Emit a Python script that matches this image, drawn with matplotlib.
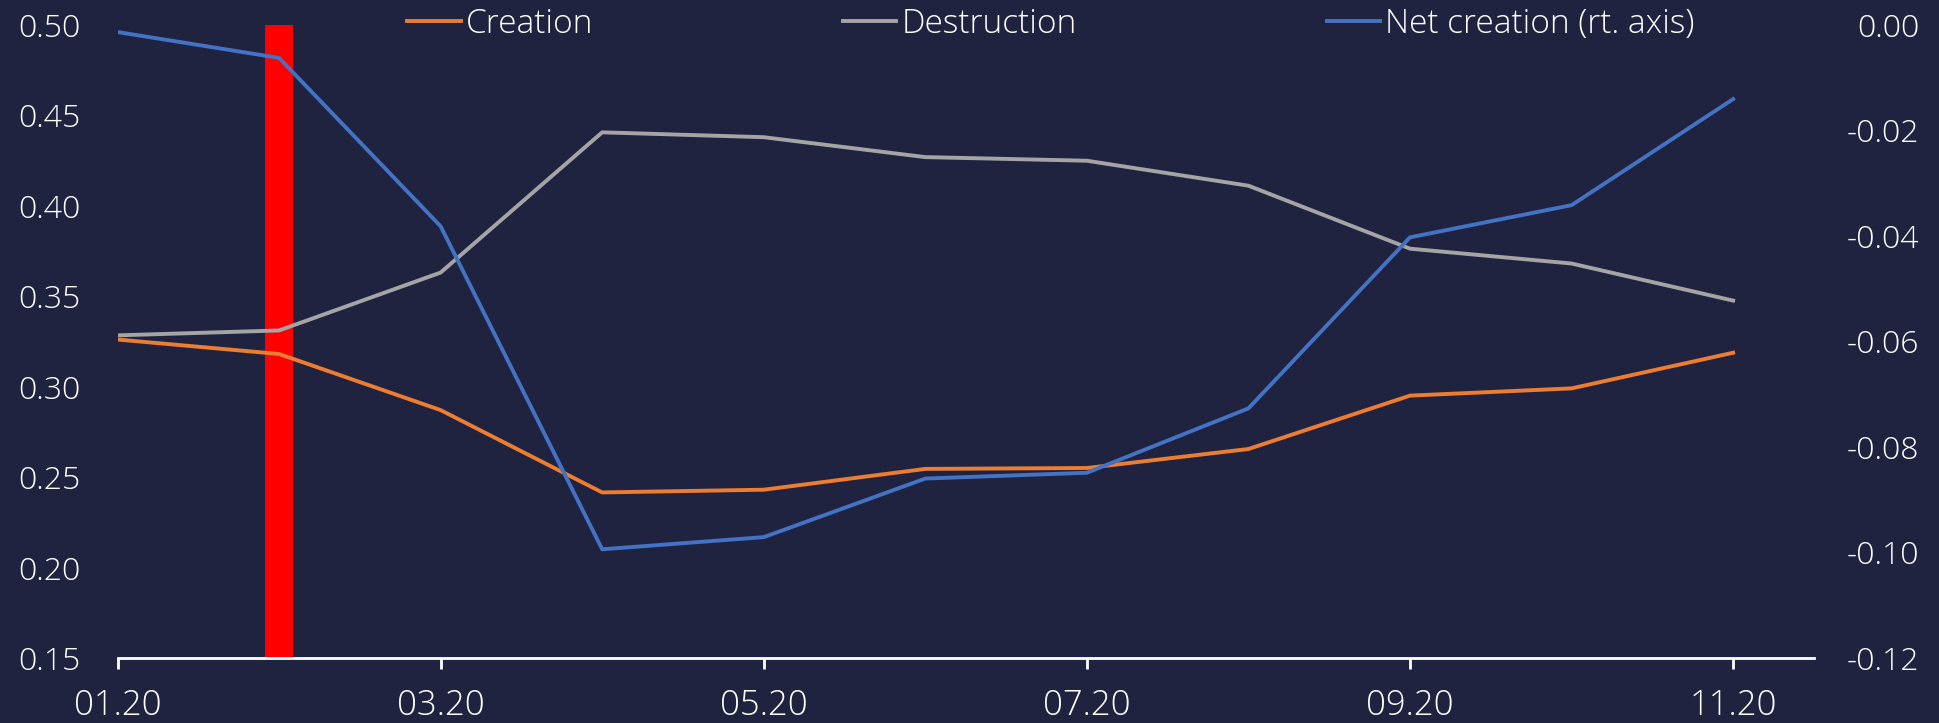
import matplotlib.pyplot as plt
import numpy as np

months = ['01.20', '02.20', '03.20', '04.20', '05.20', '06.20',
          '07.20', '08.20', '09.20', '10.20', '11.20']
creation = [0.326, 0.318, 0.287, 0.2415, 0.243, 0.2545, 0.255, 0.2655, 0.295, 0.299, 0.3187]
destruction = [0.3283, 0.331, 0.363, 0.4405, 0.4378, 0.4268, 0.4248, 0.411, 0.3762, 0.368, 0.3475]
net_creation = [-0.0014, -0.0063, -0.0382, -0.0994, -0.0971, -0.0860, -0.0849, -0.0727, -0.0403, -0.0342, -0.0141]
event_month = '02.20'

bg = '#1F2340'
fc = 'white'
plt.rcParams['font.family'] = ['Open Sans', 'DejaVu Sans']
plt.rcParams['font.weight'] = 'light'
plt.rcParams['font.size'] = 23

fig = plt.figure(figsize=(19.39, 7.23), dpi=100, facecolor=bg)
ax = fig.add_axes([0.0606, 0.0899, 0.8749, 0.876])
ax.set_facecolor(bg)
ax2 = ax.twinx()

x = np.arange(len(months))
ev = months.index(event_month)

ax.bar(ev, 0.35, bottom=0.15, width=0.171, color='#FF0000', zorder=1)
l1, = ax.plot(x, creation, color='#ED7D31', lw=2.8, label='Creation', zorder=3)
l2, = ax.plot(x, destruction, color='#A5A5A5', lw=2.8, label='Destruction', zorder=3)
l3, = ax2.plot(x, net_creation, color='#4472C4', lw=2.8, label='Net creation (rt. axis)', zorder=3)

ax.set_xlim(0, 10.5)
ax.set_ylim(0.15, 0.50)
ax.set_yticks(np.arange(0.15, 0.501, 0.05))
ax.set_yticklabels(['%.2f' % v for v in np.arange(0.15, 0.501, 0.05)])
ax2.set_ylim(-0.12, 0.0)
ax2.set_yticks(np.arange(-0.12, 0.001, 0.02))
ax2.set_yticklabels(['%.2f' % v if abs(v) > 1e-9 else '0.00' for v in np.arange(-0.12, 0.001, 0.02)])

ax.set_xticks(x[::2])
ax.set_xticklabels(months[::2], fontsize=25)

for a in (ax, ax2):
    for s in a.spines.values():
        s.set_visible(False)
ax.spines['bottom'].set_visible(True)
ax.spines['bottom'].set_color(fc)
ax.spines['bottom'].set_linewidth(2)

ax.tick_params(axis='x', colors=fc, length=8, width=2, pad=14, direction='out')
ax.tick_params(axis='y', colors=fc, length=0, pad=27)
ax2.tick_params(axis='y', colors=fc, length=0, pad=76)
for lab in ax2.get_yticklabels():
    lab.set_ha('right')

fig.legend(handles=[l1, l2, l3], loc='center', bbox_to_anchor=(0.542, 1 - 24 / 723),
           ncol=3, frameon=False, columnspacing=7.5, handlelength=1.6,
           handletextpad=0.15, labelcolor=fc, borderaxespad=0, borderpad=0,
           fontsize=24)

plt.savefig('out.png', facecolor=bg)
